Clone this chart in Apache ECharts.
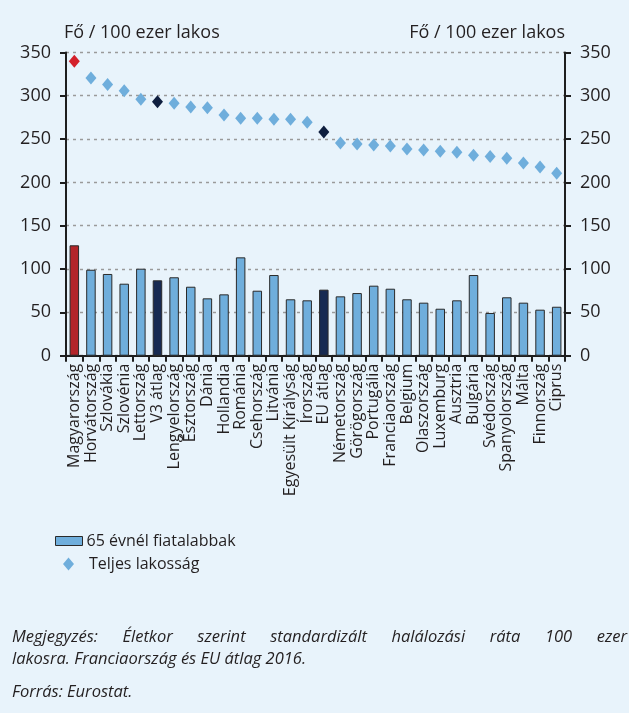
<!DOCTYPE html>
<html>
<head>
<meta charset="utf-8">
<script src="https://cdn.jsdelivr.net/npm/echarts@6/dist/echarts.min.js"></script>
<style>
html,body{margin:0;padding:0;background:#E8F3FB;}
#c{width:629px;height:713px;}
</style>
</head>
<body>
<div id="c"></div>
<script>
const categories = ['Magyarország','Horvátország','Szlovákia','Szlovénia','Lettország','V3 átlag','Lengyelország','Észtország','Dánia','Hollandia','Románia','Csehország','Litvánia','Egyesült Királyság','Írország','EU átlag','Németország','Görögország','Portugália','Franciaország','Belgium','Olaszország','Luxemburg','Ausztria','Bulgária','Svédország','Spanyolország','Málta','Finnország','Ciprus'];
const under65 = [127.4, 99.2, 94.3, 83.1, 100.4, 87.0, 90.5, 79.6, 66.2, 70.8, 113.5, 75.0, 93.1, 65.1, 63.9, 76.2, 68.5, 72.3, 80.8, 77.3, 65.1, 61.2, 54.2, 63.9, 93.1, 49.3, 67.4, 61.2, 53.1, 56.5];
const totalPop = [339.7, 320.4, 313.1, 305.8, 295.8, 293.1, 291.2, 287.0, 286.2, 277.7, 273.9, 273.9, 272.8, 272.8, 269.3, 258.1, 245.4, 244.2, 243.1, 241.9, 238.5, 237.3, 235.8, 234.7, 231.2, 230.0, 227.8, 222.3, 217.7, 210.4];
const redCats = ['Magyarország'];
const navyCats = ['V3 átlag','EU átlag'];
const seriesNames = ['65 évnél fiatalabbak','Teljes lakosság'];
const axisName = 'Fő / 100 ezer lakos';
const noteLines = ['Megjegyzés: Életkor szerint standardizált halálozási ráta 100 ezer','lakosra. Franciaország és EU átlag 2016.'];
const sourceLine = 'Forrás: Eurostat.';

const C_LIGHT = '#6FAEDC', C_RED_BAR = '#B3252A', C_RED_DOT = '#D3202A', C_NAVY = '#172A52', C_NAVY_DOT = '#0F1F3F', C_TEXT = '#231F20';
const FONT = '"Open Sans", sans-serif';

function barColor(c){ return redCats.includes(c) ? C_RED_BAR : navyCats.includes(c) ? C_NAVY : C_LIGHT; }
function dotColor(c){ return redCats.includes(c) ? C_RED_DOT : navyCats.includes(c) ? C_NAVY_DOT : C_LIGHT; }

// justified footnote line
const mctx = document.createElement('canvas').getContext('2d');
const noteFont = 'italic 16.5px "Open Sans"';
function justified(text, x, y, width){
  mctx.font = noteFont;
  const words = text.split(' ');
  const ws = words.map(w => mctx.measureText(w).width);
  const total = ws.reduce((a,b)=>a+b,0);
  const gap = (width - total) / (words.length - 1);
  let cx = x; const els = [];
  words.forEach((w,i)=>{
    els.push({type:'text', x:cx, y:y, style:{text:w, font:noteFont, fill:C_TEXT, textVerticalAlign:'middle'}});
    cx += ws[i] + gap;
  });
  return els;
}
const graphics = [].concat(
  justified(noteLines[0], 12, 637, 615),
  [{type:'text', x:12, y:659, style:{text:noteLines[1], font:noteFont, fill:C_TEXT, textVerticalAlign:'middle'}},
   {type:'text', x:12, y:692, style:{text:sourceLine, font:noteFont, fill:C_TEXT, textVerticalAlign:'middle'}}]
);

const chart = echarts.init(document.getElementById('c'), null, {renderer:'canvas'});
const yCommon = {
  type:'value', min:0, max:350, interval:50,
  name: axisName, nameLocation:'end', nameGap:11,
  axisLine:{show:true, lineStyle:{color:'#1E1E1E', width:2}},
  axisTick:{show:true, length:6, lineStyle:{color:'#1E1E1E', width:2}},
  axisLabel:{color:C_TEXT, fontSize:18, fontFamily:FONT, margin:15},
};
chart.setOption({
  backgroundColor:'#E8F3FB',
  animation:false,
  textStyle:{fontFamily:FONT},
  grid:{left:66, right:64, top:52.4, bottom:357.3},
  legend:[
    {data:[{name:seriesNames[0], icon:'rect', itemStyle:{color:C_LIGHT, borderColor:'#2A2A2A', borderWidth:1}}],
     orient:'vertical', left:55, top:533, padding:0, itemWidth:27, itemHeight:9,
     textStyle:{color:C_TEXT, fontSize:16, fontFamily:FONT, padding:[0,0,0,-1]}, selectedMode:false},
    {data:[{name:seriesNames[1], icon:'diamond', itemStyle:{color:C_LIGHT, borderWidth:0}}],
     orient:'vertical', left:63, top:556, padding:0, itemWidth:11, itemHeight:13,
     textStyle:{color:C_TEXT, fontSize:16, fontFamily:FONT, padding:[0,0,0,10]}, selectedMode:false}
  ],
  xAxis:{
    type:'category', data:categories, boundaryGap:true,
    axisLine:{lineStyle:{color:'#1E1E1E', width:2}},
    axisTick:{show:true, interval:0, alignWithLabel:false, length:6, lineStyle:{color:'#1E1E1E', width:2}},
    axisLabel:{interval:0, rotate:90, color:C_TEXT, fontSize:16, fontFamily:FONT, margin:8},
    splitLine:{show:false}
  },
  yAxis:[
    Object.assign({}, yCommon, {position:'left',
      nameTextStyle:{color:C_TEXT, fontSize:18, fontFamily:FONT, align:'left', padding:[0,0,0,-2]},
      splitLine:{show:true, lineStyle:{color:'#9A9A9A', type:[3,4], width:1.3}}}),
    Object.assign({}, yCommon, {position:'right',
      nameTextStyle:{color:C_TEXT, fontSize:18, fontFamily:FONT, align:'right'},
      splitLine:{show:false}})
  ],
  series:[
    {name:seriesNames[0], type:'bar', yAxisIndex:0, barWidth:9.5,
     itemStyle:{color:C_LIGHT, borderColor:'#2A2A2A', borderWidth:1},
     data: under65.map((v,i)=>({value:v, itemStyle:{color:barColor(categories[i])}}))},
    {name:seriesNames[1], type:'scatter', yAxisIndex:0, symbol:'diamond', symbolSize:[11,13], z:5,
     itemStyle:{color:C_LIGHT, opacity:1},
     data: totalPop.map((v,i)=>({value:v, itemStyle:{color:dotColor(categories[i]), opacity:1}}))}
  ],
  graphic: graphics
});
</script>
</body>
</html>
